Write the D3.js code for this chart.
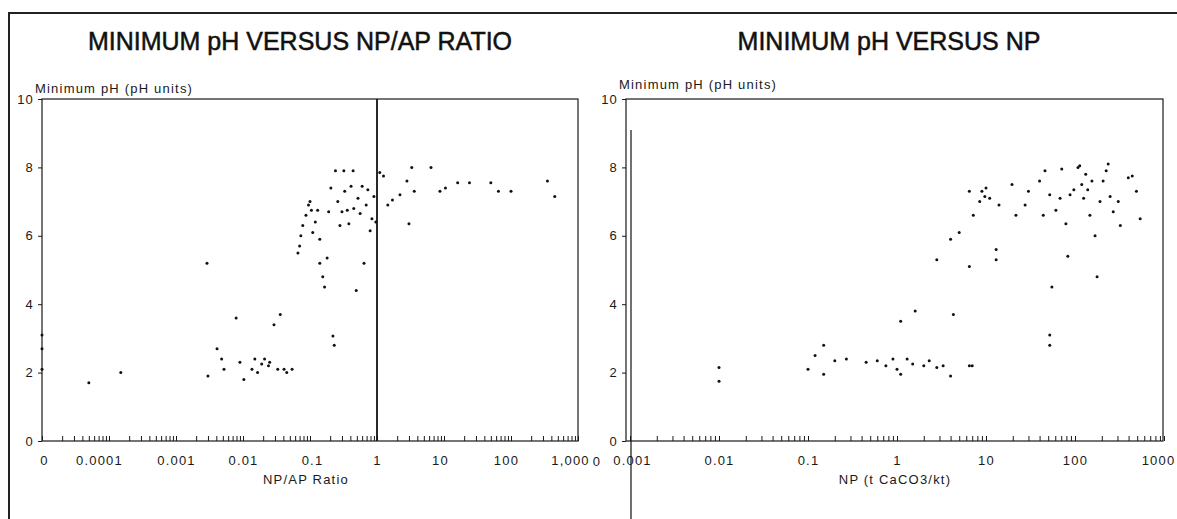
<!DOCTYPE html>
<html>
<head>
<meta charset="utf-8">
<script src="https://cdn.jsdelivr.net/npm/d3@7"></script>
<style>
  body { margin: 0; background: #fff; }
  svg { display: block; font-family: "Liberation Sans", Arial, sans-serif; }
  .tick-label text, .small { font-size: 13px; letter-spacing: 1.2px; fill: #1a1a1a; }
  .title { font-size: 25px; fill: #111; stroke: #111; stroke-width: 0.5px; }
</style>
</head>
<body>
<div id="chart"></div>
<script>
// Axis ticks and labels
var ratioTicks = [0.00001, 0.0001, 0.001, 0.01, 0.1, 1, 10, 100, 1000];
var ratioTickLabels = ["0", "0.0001", "0.001", "0.01", "0.1", "1", "10", "100", "1,000"];
var npTicks = [0.001, 0.01, 0.1, 1, 10, 100, 1000];
var npTickLabels = ["0.001", "0.01", "0.1", "1", "10", "100", "1000"];
var phTicks = [0, 2, 4, 6, 8, 10];

// NP/AP ratio = 0 is plotted on the "0" position of the axis
var ratioZero = 0.00001;

// [NP/AP ratio, minimum pH]
var ratioPoints = [
  [0, 3.1], [0, 2.7], [0, 2.1],
  [0.00005, 1.7], [0.00015, 2.0],
  [0.0029, 5.2], [0.003, 1.9], [0.0041, 2.7], [0.0048, 2.4], [0.0052, 2.1], [0.0079, 3.6],
  [0.009, 2.3], [0.0103, 1.8], [0.0136, 2.1], [0.015, 2.4], [0.0165, 2.0], [0.019, 2.25],
  [0.021, 2.4], [0.024, 2.2], [0.025, 2.3], [0.029, 3.4], [0.033, 2.1], [0.036, 3.7],
  [0.041, 2.1], [0.045, 2.0], [0.054, 2.1],
  [0.066, 5.5], [0.07, 5.7], [0.073, 6.0], [0.078, 6.3], [0.087, 6.6], [0.095, 6.9],
  [0.1, 7.0], [0.105, 6.75], [0.11, 6.1], [0.12, 6.4], [0.13, 6.75], [0.14, 5.9],
  [0.14, 5.2], [0.155, 4.8], [0.165, 4.5], [0.18, 5.35], [0.19, 6.7], [0.205, 7.4],
  [0.22, 3.07], [0.23, 2.8], [0.24, 7.9], [0.26, 7.0], [0.28, 6.3], [0.3, 6.7],
  [0.32, 7.9], [0.33, 7.3], [0.36, 6.75], [0.38, 6.35], [0.41, 7.45], [0.44, 7.9],
  [0.45, 6.8], [0.49, 4.4], [0.52, 7.1], [0.56, 6.65], [0.6, 7.45], [0.64, 5.2],
  [0.69, 6.9], [0.73, 7.35], [0.79, 6.15], [0.84, 6.5], [0.9, 7.15], [0.96, 6.4],
  [1.1, 7.85], [1.25, 7.75], [1.45, 6.9], [1.7, 7.05], [2.2, 7.2], [2.8, 7.6],
  [3.0, 6.35], [3.3, 8.0], [3.6, 7.3], [6.4, 8.0], [8.7, 7.3], [10.5, 7.4],
  [16, 7.55], [24, 7.55], [50, 7.55], [65, 7.3], [100, 7.3], [350, 7.6], [450, 7.15]
];

// [NP (t CaCO3/kt), minimum pH]
var npPoints = [
  [0.01, 2.15], [0.01, 1.75],
  [0.1, 2.1], [0.12, 2.5], [0.15, 2.8], [0.15, 1.95], [0.2, 2.35], [0.27, 2.4],
  [0.45, 2.3], [0.6, 2.35], [0.75, 2.2], [0.9, 2.4], [1.0, 2.1], [1.1, 1.95],
  [1.1, 3.5], [1.3, 2.4], [1.5, 2.25], [1.6, 3.8], [2.0, 2.2], [2.3, 2.35],
  [2.8, 2.15], [3.3, 2.2], [4.0, 1.9], [4.3, 3.7], [6.5, 2.2], [7.0, 2.2],
  [2.8, 5.3], [4.0, 5.9], [5.0, 6.1], [6.5, 5.1], [6.5, 7.3], [7.2, 6.6],
  [8.5, 7.0], [9.0, 7.3], [9.7, 7.15], [10, 7.4], [11, 7.1], [13, 5.6], [13, 5.3],
  [14, 6.9], [19.6, 7.5], [21.7, 6.6], [27.5, 6.9], [30, 7.3], [40, 7.6], [44, 6.6],
  [46, 7.9], [52, 3.1], [52, 2.8], [55, 4.5], [52, 7.2], [61, 6.75], [68, 7.1],
  [71, 7.95], [79, 6.35], [83, 5.4], [88, 7.2], [97, 7.35], [108, 8.0], [113, 8.05],
  [119, 7.5], [125, 7.1], [132, 7.8], [139, 7.35], [147, 6.6], [155, 7.6], [168, 6.0],
  [177, 4.8], [191, 7.0], [207, 7.6], [224, 7.9], [236, 8.1], [248, 7.15], [269, 6.7],
  [306, 7.0], [323, 6.3], [397, 7.7], [440, 7.75], [490, 7.3], [540, 6.5]
];

var svgWidth = 1177;
var svgHeight = 519;

var svg = d3.select("#chart")
  .append("svg")
  .attr("width", svgWidth)
  .attr("height", svgHeight);

// page border from the scan
svg.append("path")
  .attr("d", "M9,519 V13 H1177")
  .attr("fill", "none")
  .attr("stroke", "#222")
  .attr("stroke-width", 2);

// scales
var yScale = d3.scaleLinear().domain([0, 10]).range([441, 99]);
var xRatio = d3.scaleLog().domain([ratioZero, 1000]).range([42, 578]);
var xNP = d3.scaleLog().domain([0.001, 1000]).range([630, 1164]);

// 1..9 times every decade of the domain
function logMinorTicks(domain) {
  var ticks = [];
  var e0 = Math.round(Math.log10(domain[0]));
  var e1 = Math.round(Math.log10(domain[1]));
  for (var e = e0; e < e1; e++) {
    for (var k = 1; k < 10; k++) ticks.push(k * Math.pow(10, e));
  }
  ticks.push(domain[1]);
  return ticks;
}

function drawPanel(opt) {
  var g = svg.append("g");
  var x = opt.x;

  // frame
  g.append("rect")
    .attr("x", opt.left)
    .attr("y", yScale(10))
    .attr("width", opt.right - opt.left)
    .attr("height", yScale(0) - yScale(10))
    .attr("fill", "none")
    .attr("stroke", "#1a1a1a")
    .attr("stroke-width", 1.2);

  // minor ticks pointing up from the bottom
  g.append("g")
    .attr("transform", "translate(0," + yScale(0) + ")")
    .call(d3.axisBottom(x).tickValues(logMinorTicks(x.domain())).tickSize(-5).tickFormat(""))
    .call(function(a) { a.select(".domain").remove(); })
    .selectAll("line").attr("stroke", "#1a1a1a");

  // x tick labels
  g.append("g")
    .attr("class", "tick-label")
    .attr("transform", "translate(0," + yScale(0) + ")")
    .call(d3.axisBottom(x).tickValues(opt.ticks).tickSize(0).tickPadding(15)
      .tickFormat(function(d, i) { return opt.tickLabels[i]; }))
    .call(function(a) {
      a.select(".domain").remove();
      a.attr("font-size", null).attr("font-family", null);
      a.selectAll("text").attr("dx", function(d, i) { return opt.labelDx[i] || 0; });
    });

  // y axis
  g.append("g")
    .attr("class", "tick-label")
    .attr("transform", "translate(" + opt.left + ",0)")
    .call(d3.axisLeft(yScale).tickValues(phTicks).tickSize(4).tickPadding(4))
    .call(function(a) {
      a.select(".domain").remove();
      a.attr("font-size", null).attr("font-family", null);
      a.selectAll("line").attr("stroke", "#1a1a1a");
    });

  // titles
  g.append("text")
    .attr("class", "title")
    .attr("x", opt.titleX)
    .attr("y", 50)
    .attr("text-anchor", "middle")
    .text(opt.title);

  g.append("text")
    .attr("class", "small")
    .attr("x", opt.left - 7)
    .attr("y", opt.yTitleY)
    .text("Minimum pH (pH units)");

  g.append("text")
    .attr("class", "small")
    .attr("x", opt.xTitleX)
    .attr("y", 484)
    .attr("text-anchor", "middle")
    .text(opt.xTitle);

  // points
  g.append("g")
    .selectAll("circle")
    .data(opt.points)
    .enter()
    .append("circle")
    .attr("cx", function(d) { return x(Math.max(d[0], opt.floor)); })
    .attr("cy", function(d) { return yScale(d[1]); })
    .attr("r", 1.5)
    .attr("fill", "#111");

  return g;
}

var leftPanel = drawPanel({
  x: xRatio, left: 42, right: 578, floor: ratioZero,
  ticks: ratioTicks, tickLabels: ratioTickLabels, points: ratioPoints,
  labelDx: [2, -10, 0, 0, 2, 0, -4, -5, -8],
  title: "MINIMUM pH VERSUS NP/AP RATIO", titleX: 300,
  yTitleY: 93, xTitle: "NP/AP Ratio", xTitleX: 306
});

// reference line at NP/AP = 1
leftPanel.append("line")
  .attr("x1", xRatio(1)).attr("x2", xRatio(1))
  .attr("y1", yScale(10)).attr("y2", yScale(0))
  .attr("stroke", "#111")
  .attr("stroke-width", 1.8);

var rightPanel = drawPanel({
  x: xNP, left: 626, right: 1163, floor: 0.001,
  ticks: npTicks, tickLabels: npTickLabels, points: npPoints,
  labelDx: [2, 0, 0, 0, 0, 0, -6],
  title: "MINIMUM pH VERSUS NP", titleX: 889,
  yTitleY: 89, xTitle: "NP (t CaCO3/kt)", xTitleX: 895
});

// stray "0" label left of the NP axis
rightPanel.append("text")
  .attr("class", "small")
  .attr("x", xNP(0.001) - 33)
  .attr("y", 466)
  .attr("text-anchor", "middle")
  .text("0");

// long vertical line of the scan through the NP axis
rightPanel.append("line")
  .attr("x1", xNP(0.001) + 1).attr("x2", xNP(0.001) + 1)
  .attr("y1", 130).attr("y2", svgHeight)
  .attr("stroke", "#111")
  .attr("stroke-width", 1.2);
</script>
</body>
</html>
